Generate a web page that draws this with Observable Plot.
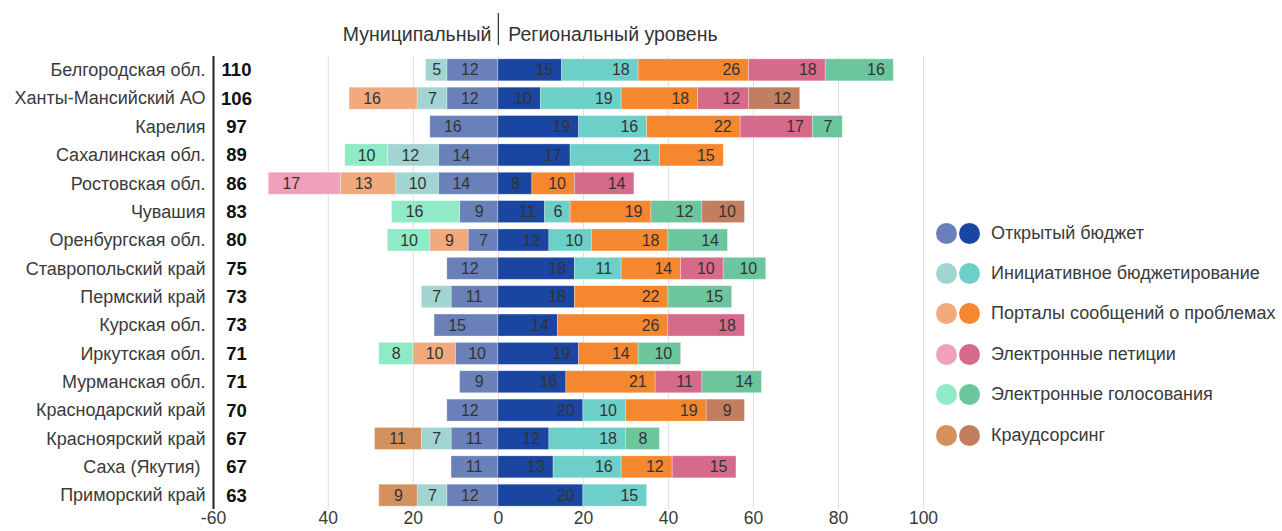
<!DOCTYPE html>
<html>
<head>
<meta charset="utf-8">
<script src="https://cdn.jsdelivr.net/npm/d3@7"></script>
<script src="https://cdn.jsdelivr.net/npm/@observablehq/plot@0.6"></script>
<style>
  html, body { margin: 0; padding: 0; background: #fff; }
  #wrap { position: relative; width: 1282px; height: 531px; font-family: "Liberation Sans", Arial, sans-serif; }
  #legend { position: absolute; left: 936px; top: 213px; }
  .li { display: flex; align-items: center; height: 40.4px; }
  .dot { width: 21px; height: 21px; border-radius: 50%; margin-right: 2px; }
  .lt { margin-left: 9px; font-size: 18px; color: #3a3a3a; white-space: nowrap; }
  svg g[aria-label="x-axis tick label"] text { font-size: 17.5px; }
</style>
</head>
<body>
<div id="wrap"><div id="legend"></div></div>
<script>
const regions = ["Белгородская обл.", "Ханты-Мансийский АО", "Карелия", "Сахалинская обл.", "Ростовская обл.", "Чувашия", "Оренбургская обл.", "Ставропольский край", "Пермский край", "Курская обл.", "Иркутская обл.", "Мурманская обл.", "Краснодарский край", "Красноярский край", "Саха (Якутия) ", "Приморский край"];
const totals = [110, 106, 97, 89, 86, 83, 80, 75, 73, 73, 71, 71, 70, 67, 67, 63];
const categories = ["Открытый бюджет", "Инициативное бюджетирование", "Порталы сообщений о проблемах", "Электронные петиции", "Электронные голосования", "Краудсорсинг"];
const colorsMunicipal = ["#6a80b9", "#a2d5d1", "#f2aa7c", "#f0a1ba", "#8febc5", "#d3915f"];
const colorsRegional = ["#1a45a0", "#6dd0c8", "#f5872f", "#d66a8b", "#6cc69d", "#c17e60"];

// Municipal level (drawn to the left)
const muniOpenBudget   = [12, 12, 16, 14, 14, 9, 7, 12, 11, 15, 10, 9, 12, 11, 11, 12];
const muniInitiative   = [5, 7, 0, 12, 10, 0, 0, 0, 7, 0, 0, 0, 0, 7, 0, 7];
const muniPortals      = [0, 16, 0, 0, 13, 0, 9, 0, 0, 0, 10, 0, 0, 0, 0, 0];
const muniPetitions    = [0, 0, 0, 0, 17, 0, 0, 0, 0, 0, 0, 0, 0, 0, 0, 0];
const muniVoting       = [0, 0, 0, 10, 0, 16, 10, 0, 0, 0, 8, 0, 0, 0, 0, 0];
const muniCrowd        = [0, 0, 0, 0, 0, 0, 0, 0, 0, 0, 0, 0, 0, 11, 0, 9];

// Regional level (drawn to the right)
const regOpenBudget    = [15, 10, 19, 17, 8, 11, 12, 18, 18, 14, 19, 16, 20, 12, 13, 20];
const regInitiative    = [18, 19, 16, 21, 0, 6, 10, 11, 0, 0, 0, 0, 10, 18, 16, 15];
const regPortals       = [26, 18, 22, 15, 10, 19, 18, 14, 22, 26, 14, 21, 19, 0, 12, 0];
const regPetitions     = [18, 12, 17, 0, 14, 0, 0, 10, 0, 18, 0, 11, 0, 0, 15, 0];
const regVoting        = [16, 0, 7, 0, 0, 12, 14, 10, 15, 0, 10, 14, 0, 8, 0, 0];
const regCrowd         = [0, 12, 0, 0, 0, 10, 0, 0, 0, 0, 0, 0, 9, 0, 0, 0];

const xTickValues = [-67, -40, -20, 0, 20, 40, 60, 80, 100];
const xTickLabels = ["-60", "40", "20", "0", "20", "40", "60", "80", "100"];
const gridValues = [-40, -20, 0, 20, 40, 60, 80, 100];

const muniSeries = [muniOpenBudget, muniInitiative, muniPortals, muniPetitions, muniVoting, muniCrowd];
const regSeries = [regOpenBudget, regInitiative, regPortals, regPetitions, regVoting, regCrowd];

// build segments with cumulative positions
const segs = [];
regions.forEach((r, i) => {
  let acc = 0;
  muniSeries.forEach((s, c) => {
    const v = s[i];
    if (v > 0) {
      segs.push({region: r, value: v, x1: -acc, x2: -(acc + v), color: colorsMunicipal[c], side: -1});
      acc += v;
    }
  });
  acc = 0;
  regSeries.forEach((s, c) => {
    const v = s[i];
    if (v > 0) {
      segs.push({region: r, value: v, x1: acc, x2: acc + v, color: colorsRegional[c], side: 1});
      acc += v;
    }
  });
});
segs.forEach(d => {
  const outer = d.x2;
  const off = d.side > 0 ? Math.min(d.value / 2, 4.2) : Math.min(d.value / 2, 5.3);
  d.lx = outer - d.side * off;
});

const xDomain = [xTickValues[0], 100];
const labelOf = new Map(xTickValues.map((v, i) => [v, xTickLabels[i]]));

const chart = Plot.plot({
  width: 1282,
  height: 531,
  marginLeft: 213,
  marginRight: 359,
  marginTop: 56,
  marginBottom: 22,
  style: {fontFamily: "'Liberation Sans', Arial, sans-serif", fontSize: "18px", color: "#3a3a3a", background: "white"},
  x: {domain: xDomain, ticks: xTickValues, tickFormat: d => labelOf.get(d), tickSize: 0, tickPadding: 2, label: null},
  y: {domain: regions, paddingInner: 0.225, paddingOuter: 0.1, round: false, tickSize: 0, tickPadding: 8, label: null},
  color: {type: "identity"},
  marks: [
    Plot.ruleX(gridValues, {stroke: "#dedede", strokeWidth: 1}),
    Plot.barX(segs, {y: "region", x1: "x1", x2: "x2", fill: "color", stroke: "#ffffff", strokeOpacity: 0.35, strokeWidth: 0.8}),
    Plot.text(segs, {y: "region", x: "lx", text: d => String(d.value), fill: "#333", fontSize: 16, textAnchor: "middle"}),
    Plot.ruleX([xDomain[0]], {stroke: "#222", strokeWidth: 2}),
    Plot.text(regions, {y: d => d, text: (d, i) => String(totals[i]), frameAnchor: "left", dx: 23, textAnchor: "middle", fontWeight: "bold", fontSize: 18.5, fill: "#111"}),
    Plot.ruleX([0], {stroke: "#333", strokeWidth: 1.2, insetTop: -43, insetBottom: 464}),
    Plot.text(["Муниципальный"], {x: 0, frameAnchor: "top", dy: -29, dx: -7, textAnchor: "end", fontSize: 19.5, fill: "#333"}),
    Plot.text(["Региональный уровень"], {x: 0, frameAnchor: "top", dy: -29, dx: 10, textAnchor: "start", fontSize: 19.5, fill: "#333"})
  ]
});

const wrap = document.getElementById("wrap");
wrap.insertBefore(chart, wrap.firstChild);

const legend = document.getElementById("legend");
categories.forEach((c, i) => {
  const row = document.createElement("div");
  row.className = "li";
  row.innerHTML = `<span class="dot" style="background:${colorsMunicipal[i]}"></span><span class="dot" style="background:${colorsRegional[i]}"></span><span class="lt">${c}</span>`;
  legend.appendChild(row);
});
</script>
</body>
</html>
